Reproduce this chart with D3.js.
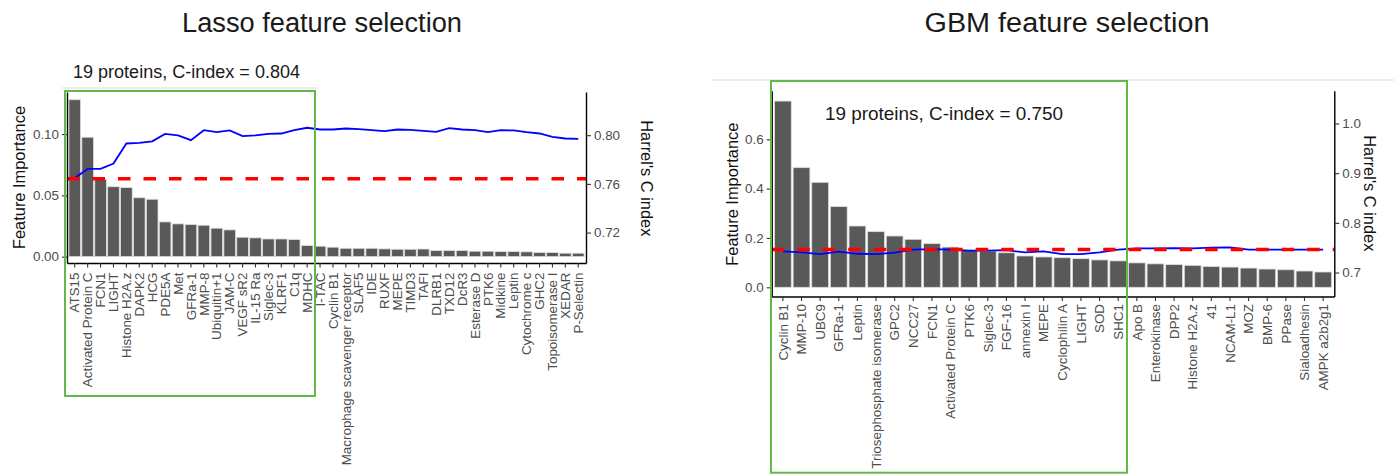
<!DOCTYPE html>
<html>
<head>
<meta charset="utf-8">
<script src="https://cdn.jsdelivr.net/npm/d3@7"></script>
<style>
body { margin: 0; background: #fff; }
svg { display: block; font-family: "Liberation Sans", Arial, sans-serif; }
.axis text { fill: #4d4d4d; font-size: 13.4px; }
.axis line { stroke: #333; stroke-width: 1.1; }
.axis path { stroke: #000; stroke-width: 1.4; }
</style>
</head>
<body>
<svg width="1394" height="474"></svg>
<script>
// lasso panel data
var lassoProteins = ["ATS15", "Activated Protein C", "FCN1", "LIGHT", "Histone H2A.z", "DAPK2", "HCG", "PDE5A", "Met",
	"GFRa-1", "MMP-8", "Ubiquitin+1", "JAM-C", "VEGF sR2", "IL-15 Ra", "Siglec-3", "KLRF1", "C1q", "MDHC", "I-TAC",
	"Cyclin B1", "Macrophage scavenger receptor", "SLAF5", "IDE", "RUXF", "MEPE", "TIMD3", "TAFI", "DLRB1", "TXD12",
	"DcR3", "Esterase D", "PTK6", "Midkine", "Leptin", "Cytochrome c", "GHC2", "Topoisomerase I", "XEDAR", "P-Selectin"];
var lassoImportance = [0.128, 0.0974, 0.063, 0.057, 0.0563, 0.048, 0.0468, 0.0283, 0.0267, 0.0261,
	0.0256, 0.0232, 0.0218, 0.0158, 0.0153, 0.0144, 0.0144, 0.0139, 0.009, 0.0085,
	0.0077, 0.0068, 0.0068, 0.0068, 0.0063, 0.006, 0.006, 0.0062, 0.0049, 0.0049,
	0.0049, 0.0044, 0.0044, 0.0041, 0.0041, 0.0039, 0.0033, 0.0033, 0.0028, 0.0028];
var lassoCindex = [0.7649, 0.7723, 0.7723, 0.7767, 0.7932, 0.7937, 0.795, 0.8011, 0.7998, 0.7959,
	0.8041, 0.8025, 0.8039, 0.7992, 0.7998, 0.8011, 0.8014, 0.8041, 0.8061, 0.8047,
	0.8047, 0.8055, 0.805, 0.8041, 0.8033, 0.8047, 0.8044, 0.8036, 0.8028, 0.8058,
	0.8047, 0.8041, 0.8025, 0.8041, 0.8039, 0.8025, 0.8014, 0.7987, 0.7973, 0.797];
var lassoBaseline = 0.7643;
var lassoImpTicks = [0, 0.05, 0.10];
var lassoCTicks = [0.72, 0.76, 0.80];

// gbm panel data
var gbmProteins = ["Cyclin B1", "MMP-10", "UBC9", "GFRa-1", "Leptin", "Triosephosphate isomerase", "GPC2", "NCC27",
	"FCN1", "Activated Protein C", "PTK6", "Siglec-3", "FGF-16", "annexin I", "MEPE", "Cyclophilin A", "LIGHT", "SOD",
	"SHC1", "Apo B", "Enterokinase", "DPP2", "Histone H2A.z", "41", "NCAM-L1", "MOZ", "BMP-6", "PPase",
	"Sialoadhesin", "AMPK a2b2g1"];
var gbmImportance = [0.755, 0.485, 0.4256, 0.327, 0.2485, 0.2256, 0.208, 0.1945, 0.177, 0.163,
	0.151, 0.147, 0.140, 0.127, 0.123, 0.120, 0.116, 0.111, 0.107, 0.099,
	0.095, 0.092, 0.089, 0.084, 0.082, 0.078, 0.074, 0.071, 0.066, 0.062];
var gbmCindex = [0.7425, 0.7405, 0.7372, 0.742, 0.7378, 0.7372, 0.740, 0.746, 0.7473, 0.746,
	0.744, 0.744, 0.745, 0.7405, 0.7425, 0.7372, 0.7372, 0.7405, 0.746, 0.7487,
	0.7487, 0.7493, 0.7487, 0.75, 0.7507, 0.746, 0.746, 0.746, 0.746, 0.746];
var gbmBaseline = 0.7466;
var gbmImpTicks = [0, 0.2, 0.4, 0.6];
var gbmCTicks = [0.7, 0.8, 0.9, 1.0];

var svg = d3.select("svg");

function drawPanel(p) {
	var g = svg.append("g");

	var x = d3.scaleBand().domain(p.proteins).range([p.left, p.right]).paddingInner(0.1).paddingOuter(0.15);
	var y = d3.scaleLinear().domain(p.impDomain).range([p.bottom, p.top]);
	var yc = d3.scaleLinear().domain(p.cDomain).range([p.bottom, p.top]);

	// faint separator line
	g.append("line")
		.attr("x1", p.rule[0]).attr("x2", p.rule[1])
		.attr("y1", p.rule[2]).attr("y2", p.rule[2])
		.attr("stroke", "#e6e6e6").attr("stroke-width", 1.5);

	// titles
	g.append("text")
		.attr("x", p.titleX).attr("y", 32)
		.attr("text-anchor", "middle")
		.attr("textLength", p.titleLen).attr("lengthAdjust", "spacingAndGlyphs")
		.style("font-size", "27px").style("fill", "#1a1a1a")
		.text(p.title);

	g.append("text")
		.attr("x", p.subX).attr("y", p.subY)
		.attr("textLength", p.subLen).attr("lengthAdjust", "spacingAndGlyphs")
		.style("font-size", p.subSize + "px").style("fill", "#1a1a1a")
		.text(p.sub);

	// bars
	g.selectAll(".bar")
		.data(p.proteins)
		.enter()
		.append("rect")
		.attr("class", "bar")
		.attr("x", function (d) { return x(d); })
		.attr("width", x.bandwidth())
		.attr("y", function (d, i) { return y(p.importance[i]); })
		.attr("height", function (d, i) { return y(0) - y(p.importance[i]); })
		.attr("fill", "#595959")
		.attr("stroke", "#dcdcdc")
		.attr("stroke-width", 0.8);

	// c-index curve
	var line = d3.line()
		.x(function (d, i) { return x(p.proteins[i]) + x.bandwidth() / 2; })
		.y(function (d) { return yc(d); });

	g.append("path")
		.datum(p.cindex)
		.attr("d", line)
		.attr("fill", "none")
		.attr("stroke", "#0000ff")
		.attr("stroke-width", 1.8);

	// reference c-index
	g.append("line")
		.attr("x1", p.left).attr("x2", p.right)
		.attr("y1", yc(p.baseline)).attr("y2", yc(p.baseline))
		.attr("stroke", "#ff0000")
		.attr("stroke-width", 3.5)
		.attr("stroke-dasharray", "12.5 13");

	// axes
	g.append("g")
		.attr("class", "axis")
		.attr("transform", "translate(" + p.left + ",0)")
		.call(d3.axisLeft(y).tickValues(p.impTicks).tickFormat(d3.format(p.impFormat)).tickSize(5).tickSizeOuter(0));

	g.append("g")
		.attr("class", "axis")
		.attr("transform", "translate(" + p.right + ",0)")
		.call(d3.axisRight(yc).tickValues(p.cTicks).tickFormat(d3.format(p.cFormat)).tickSize(5).tickSizeOuter(0));

	g.append("g")
		.attr("class", "axis")
		.attr("transform", "translate(0," + p.bottom + ")")
		.call(d3.axisBottom(x).tickSize(4.5).tickSizeOuter(0))
		.selectAll("text")
		.attr("transform", "rotate(-90)")
		.attr("x", -p.labelGap)
		.attr("y", 0)
		.attr("dy", "0.35em")
		.style("text-anchor", "end");

	// axis titles
	g.append("text")
		.attr("transform", "translate(" + p.yTitle[0] + "," + p.yTitle[1] + ") rotate(-90)")
		.attr("text-anchor", "middle")
		.style("font-size", "16.4px").style("fill", "#111")
		.text("Feature Importance");

	g.append("text")
		.attr("transform", "translate(" + p.cTitle[0] + "," + p.cTitle[1] + ") rotate(90)")
		.attr("text-anchor", "middle")
		.style("font-size", "16.4px").style("fill", "#111")
		.text("Harrel's C index");

	// highlight box around selected proteins
	g.append("rect")
		.attr("x", p.box[0]).attr("y", p.box[1])
		.attr("width", p.box[2] - p.box[0]).attr("height", p.box[3] - p.box[1])
		.attr("fill", "none")
		.attr("stroke", "#62b849")
		.attr("stroke-width", 2);
}

drawPanel({
	proteins: lassoProteins, importance: lassoImportance, cindex: lassoCindex, baseline: lassoBaseline,
	impDomain: [-0.0052, 0.1343], impTicks: lassoImpTicks, impFormat: ".2f",
	cDomain: [0.695, 0.8355], cTicks: lassoCTicks, cFormat: ".2f",
	left: 67, right: 586, top: 92, bottom: 263, labelGap: 9.5,
	title: "Lasso  feature selection", titleX: 322, titleLen: 280,
	sub: "19 proteins, C-index = 0.804", subX: 73, subY: 77.5, subLen: 227, subSize: 17.5,
	rule: [62, 318, 88],
	yTitle: [25, 177.5], cTitle: [641, 178.3],
	box: [65, 91, 315, 396]
});

drawPanel({
	proteins: gbmProteins, importance: gbmImportance, cindex: gbmCindex, baseline: gbmBaseline,
	impDomain: [-0.0373, 0.797], impTicks: gbmImpTicks, impFormat: ".1f",
	cDomain: [0.6518, 1.066], cTicks: gbmCTicks, cFormat: ".1f",
	left: 771.7, right: 1334.3, top: 90.7, bottom: 296.5, labelGap: 7.5,
	title: "GBM  feature selection", titleX: 1067, titleLen: 285,
	sub: "19 proteins, C-index = 0.750", subX: 825, subY: 120, subLen: 238, subSize: 18.5,
	rule: [712, 1394, 80],
	yTitle: [738, 194.2], cTitle: [1364, 193.3],
	box: [771, 81, 1127, 472.7]
});
</script>
</body>
</html>
